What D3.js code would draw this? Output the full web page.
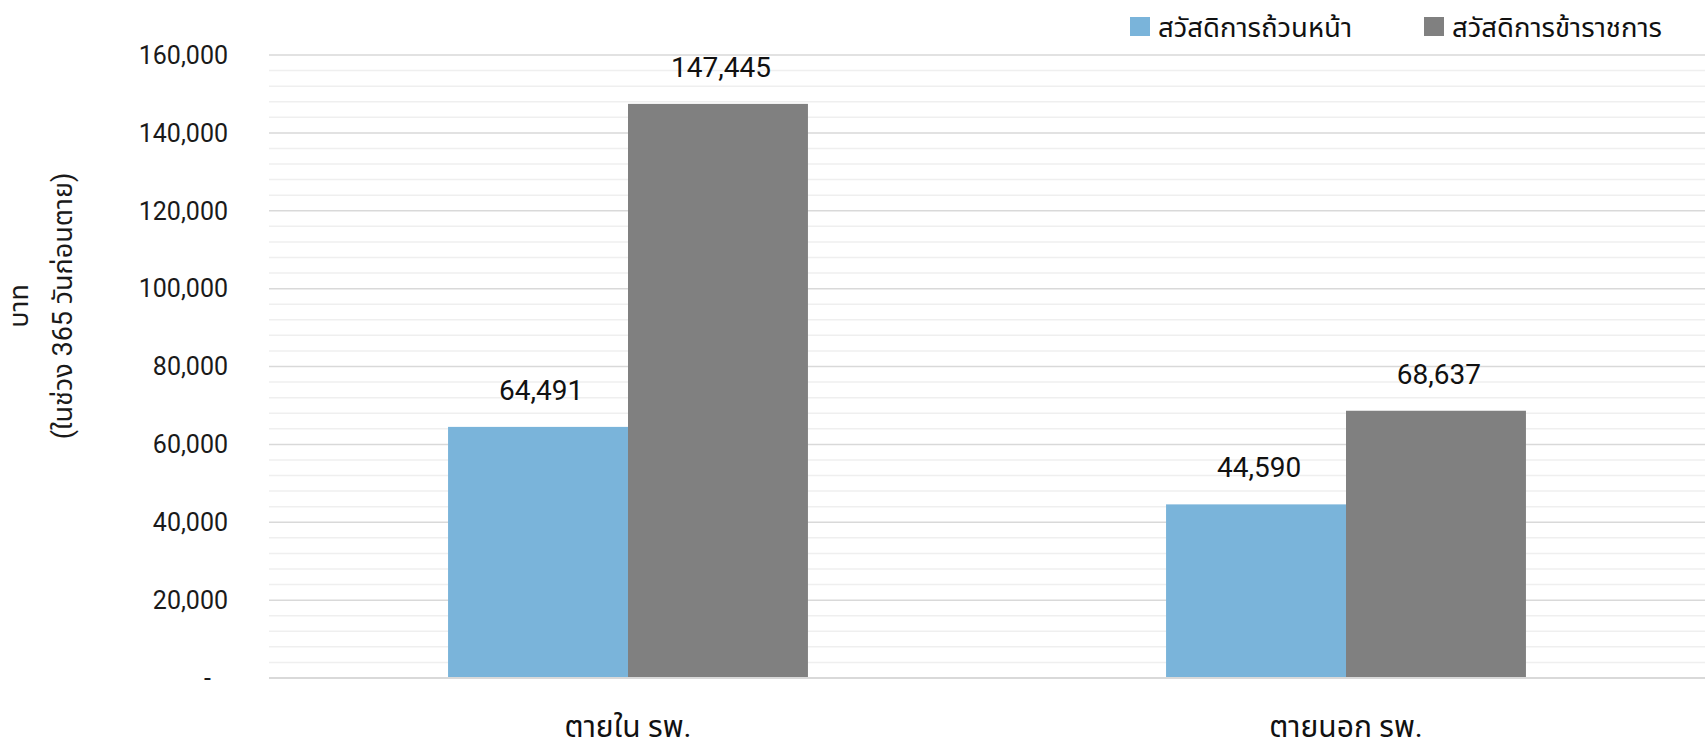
<!DOCTYPE html>
<html>
<head>
<meta charset="utf-8">
<script src="https://cdn.jsdelivr.net/npm/d3@7"></script>
<style>
  body { margin: 0; background: #fff; }
  svg { display: block; font-family: Roboto, "Noto Sans Thai", "Noto Sans", sans-serif; }
</style>
</head>
<body>
<svg id="chart" width="1705" height="743"></svg>
<script>
const categories = ['ตายใน รพ.', 'ตายนอก รพ.'];
const series     = ['สวัสดิการถ้วนหน้า', 'สวัสดิการข้าราชการ'];
const universal  = [64491, 44590];
const civil      = [147445, 68637];
const majorTicks = [0, 20000, 40000, 60000, 80000, 100000, 120000, 140000, 160000];
const minorTicks = d3.range(0, 160001, 4000);
const colors     = ['#7ab4da', '#808080'];

const W = 1705, H = 743;
const Mg = { top: 55, right: 0, bottom: 65, left: 269 };
const svg = d3.select('#chart');

const x = d3.scaleBand().domain(categories).range([Mg.left, W - Mg.right]).padding(0);
const xs = d3.scaleBand().domain(series).range([0, x.bandwidth()]).paddingInner(0).paddingOuter(0.995);
const y = d3.scaleLinear().domain([0, 160000]).range([H - Mg.bottom, Mg.top]);

// grid: light minor lines, darker major lines
svg.append('g').selectAll('line').data(minorTicks.filter(d => d % 20000 !== 0)).join('line')
  .attr('x1', Mg.left).attr('x2', W).attr('y1', d => y(d)).attr('y2', d => y(d))
  .attr('stroke', '#efefef').attr('stroke-width', 1.5);
svg.append('g').selectAll('line').data(majorTicks).join('line')
  .attr('x1', Mg.left).attr('x2', W).attr('y1', d => y(d)).attr('y2', d => y(d))
  .attr('stroke', '#d9d9d9').attr('stroke-width', 1.5);

// y tick labels
svg.append('g').selectAll('text').data(majorTicks).join('text')
  .attr('x', d => d === 0 ? 211 : 228).attr('y', d => y(d)).attr('dy', '0.35em')
  .attr('text-anchor', 'end').attr('font-size', 25).attr('fill', '#1a1a1a')
  .text(d => d === 0 ? '-' : d3.format(',')(d));

// y title
const yt = svg.append('text').attr('transform', 'translate(0,306) rotate(-90)')
  .attr('text-anchor', 'middle').attr('font-size', 27).attr('fill', '#1a1a1a');
yt.append('tspan').attr('x', 0).attr('y', 28).text('บาท');
yt.append('tspan').attr('x', 0).attr('y', 72).text('(ในช่วง 365 วันก่อนตาย)');

// bars
const rows = categories.map((c, i) => ({ cat: c, vals: [universal[i], civil[i]] }));
const grp = svg.append('g').selectAll('g').data(rows).join('g')
  .attr('transform', d => `translate(${x(d.cat)},0)`);

grp.selectAll('rect').data(d => d.vals.map((v, j) => ({ s: series[j], v, j }))).join('rect')
  .attr('x', d => xs(d.s)).attr('width', xs.bandwidth())
  .attr('y', d => y(d.v)).attr('height', d => y(0) - y(d.v))
  .attr('fill', d => colors[d.j]);

grp.selectAll('text').data(d => d.vals.map((v, j) => ({ s: series[j], v, j }))).join('text')
  .attr('x', d => xs(d.s) + xs.bandwidth() / 2 + 3).attr('y', d => y(d.v) - 37).attr('dy', '0.35em')
  .attr('text-anchor', 'middle').attr('font-size', 28).attr('fill', '#111')
  .text(d => d3.format(',')(d.v));

// baseline
svg.append('line').attr('x1', Mg.left).attr('x2', W).attr('y1', y(0)).attr('y2', y(0))
  .attr('stroke', '#d9d9d9').attr('stroke-width', 2);

// category labels
svg.append('g').selectAll('text').data(categories).join('text')
  .attr('x', d => x(d) + x.bandwidth() / 2).attr('y', 726).attr('dy', '0.35em')
  .attr('text-anchor', 'middle').attr('font-size', 30).attr('fill', '#111')
  .text(d => d);

// legend
const legX = [1130, 1424];
const leg = svg.append('g').selectAll('g').data(series).join('g')
  .attr('transform', (d, i) => `translate(${legX[i]},17)`);
leg.append('rect').attr('width', 20).attr('height', 19).attr('fill', (d, i) => colors[i]);
leg.append('text').attr('x', 28).attr('y', 10).attr('dy', '0.35em')
  .attr('font-size', 27.5).attr('fill', '#111').text(d => d);
</script>
</body>
</html>
